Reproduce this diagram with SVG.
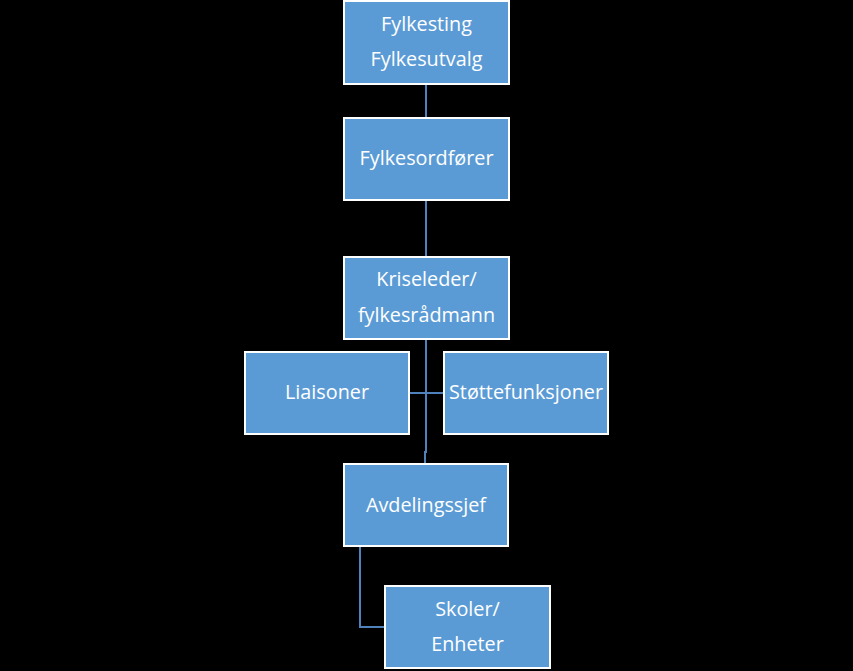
<svg xmlns="http://www.w3.org/2000/svg" width="853" height="671" viewBox="0 0 853 671">
<style>
.box{fill:#5B9BD5;stroke:#FFFFFF;stroke-width:2}
.t{font-family:"Open Sans","Liberation Sans",sans-serif;font-size:19.8px;fill:#FFFFFF;text-anchor:middle}
.c{fill:none;stroke:#4F81BD;stroke-width:2}
</style>
<rect x="0" y="0" width="853" height="671" fill="#000000"/>
<g id="connectors">
<line class="c" x1="426" y1="84" x2="426" y2="118"/>
<line class="c" x1="426" y1="200" x2="426" y2="257"/>
<polyline class="c" points="426,339 426,452 425,452 425,464"/>
<line class="c" x1="409" y1="393" x2="444" y2="393"/>
<polyline class="c" points="360,546 360,627 385,627"/>
</g>
<g id="n1"><rect class="box" x="344" y="1" width="165" height="83"/><text class="t" x="426.5" y="31">Fylkesting</text><text class="t" x="426.5" y="66">Fylkesutvalg</text></g>
<g id="n2"><rect class="box" x="344" y="118" width="165" height="82"/><text class="t" x="426.5" y="165">Fylkesordfører</text></g>
<g id="n3"><rect class="box" x="344" y="257" width="165" height="82"/><text class="t" x="426.5" y="286">Kriseleder/</text><text class="t" x="426.5" y="322">fylkesrådmann</text></g>
<g id="n4"><rect class="box" x="245" y="352" width="164" height="82"/><text class="t" x="327" y="399">Liaisoner</text></g>
<g id="n5"><rect class="box" x="444" y="352" width="164" height="82"/><text class="t" x="526" y="399">Støttefunksjoner</text></g>
<g id="n6"><rect class="box" x="344" y="464" width="164" height="82"/><text class="t" x="426" y="512">Avdelingssjef</text></g>
<g id="n7"><rect class="box" x="385" y="586" width="165" height="82"/><text class="t" x="467.5" y="616">Skoler/</text><text class="t" x="467.5" y="651">Enheter</text></g>
</svg>
